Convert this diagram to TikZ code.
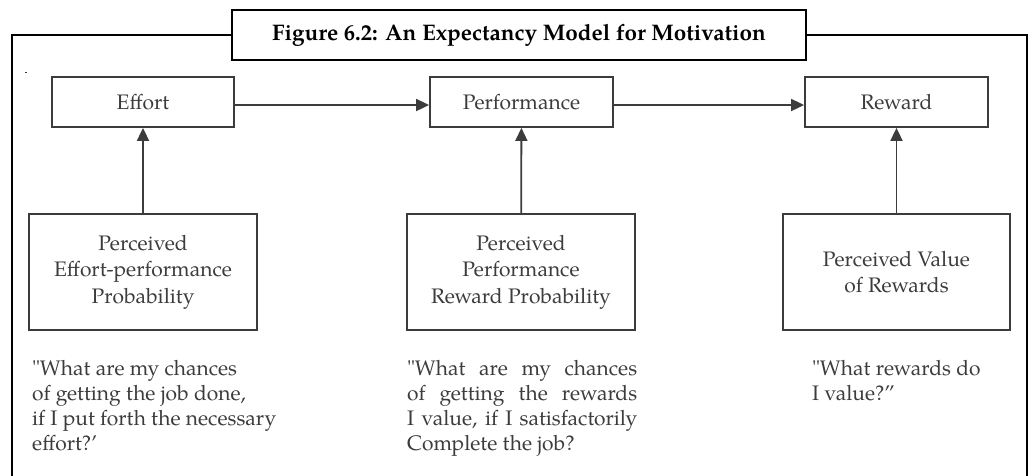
\documentclass[tikz,border=0pt]{standalone}
\usepackage{fontspec}
\setmainfont{TeX Gyre Pagella}[Ligatures=TeXOff]
\usetikzlibrary{arrows.meta}
\definecolor{ink}{HTML}{3C3C3C}
\begin{document}
\begin{tikzpicture}[x=1pt,y=-1pt,
  box/.style={draw=ink, line width=1.8pt, inner sep=0pt, text=ink, align=center,
    font=\fontsize{21}{26.5}\selectfont},
  quote/.style={text=ink, inner sep=0pt, font=\fontsize{21}{25}\selectfont,
    anchor=base west, align=left},
  arr/.style={draw=ink, line width=1.8pt, -{Triangle[length=13pt,width=12pt]}},
  frame/.style={draw=black, line width=2.6pt}]
\useasboundingbox (0,0) rectangle (1029,475);
% title and frame
\node[frame, minimum width=574pt, minimum height=50pt, inner sep=0pt,
  font=\bfseries\fontsize{22.5}{26}\selectfont] (title) at (519,35)
  {Figure 6.2: An Expectancy Model for Motivation};
\draw[frame] (12,476) -- (12,35) -- (title.west);
\draw[frame] (title.east) -- (1027,35) -- (1027,476);
\fill[ink] (25,71.5) rectangle (27,72.5);
% upper boxes
\node[box, minimum width=182pt, minimum height=50pt] (effort) at (143,102) {Effort};
\node[box, minimum width=183pt, minimum height=50pt] (perf) at (521.5,102) {Performance};
\node[box, minimum width=183pt, minimum height=50pt] (reward) at (896.5,102) {Reward};
% lower boxes
\node[box, minimum width=228pt, minimum height=116pt] (pep) at (143,272)
  {Perceived\\Effort-performance\\Probability};
\node[box, minimum width=228pt, minimum height=116pt] (ppr) at (521,272)
  {Perceived\\Performance\\Reward Probability};
\node[box, minimum width=227pt, minimum height=116pt] (pvr) at (896.5,272)
  {Perceived Value\\of Rewards};
% connectors
\draw[arr] ([yshift=-3pt]effort.east) -- ([yshift=-3pt]perf.west);
\draw[arr] ([yshift=-3pt]perf.east) -- ([yshift=-3pt]reward.west);
\draw[arr] (pep) -- (effort);
\draw[arr] (ppr) -- (perf);
\draw[arr] (pvr) -- (reward);
% quotes (base anchor = baseline of the last line)
\node[quote] (q1) at (32,450)
  {"What are my chances\\of getting the job done,\\if I put forth the necessary\\effort?’};
\node[quote] (q2) at (407,450)
  {\makebox[230pt][s]{"What are my chances}\\\makebox[230pt][s]{of getting the rewards}\\\makebox[230pt][s]{I value, if I satisfactorily}\\Complete the job?};
\node[quote] (q3) at (812,400)
  {"What rewards do\\I value?”};
\end{tikzpicture}
\end{document}
